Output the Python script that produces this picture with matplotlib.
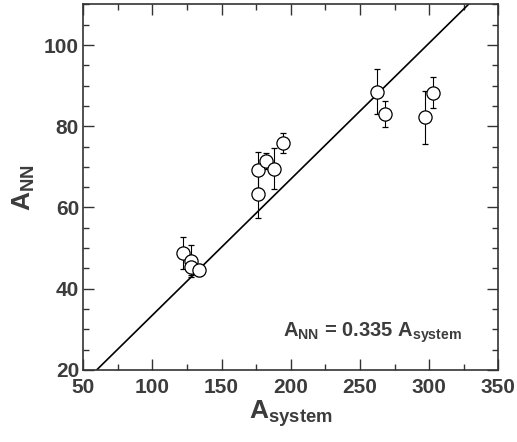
import matplotlib
matplotlib.use("Agg")
import matplotlib.pyplot as plt
import numpy as np
from matplotlib.ticker import MultipleLocator

# data
a_system = [122, 128, 128, 134, 176, 176, 182, 188, 194, 262, 268, 297, 303]
a_nn = [48.8, 46.8, 45.4, 44.6, 63.3, 69.3, 71.4, 69.6, 75.9, 88.5, 83.0, 82.2, 88.3]
a_nn_err = [4.0, 4.0, 2.0, 1.5, 5.8, 4.4, 2.0, 5.0, 2.5, 5.6, 3.2, 6.6, 3.9]
slope = 0.335

text_col = "#3c3c3c"
plt.rcParams["font.family"] = ["Liberation Sans", "DejaVu Sans"]
plt.rcParams["font.weight"] = "bold"
plt.rcParams["axes.labelweight"] = "bold"
plt.rcParams["mathtext.fontset"] = "custom"
plt.rcParams["mathtext.rm"] = "Liberation Sans:bold"
plt.rcParams["mathtext.bf"] = "Liberation Sans:bold"
plt.rcParams["mathtext.it"] = "Liberation Sans:bold"

fig = plt.figure(figsize=(5.17, 4.42), dpi=100)
ax = fig.add_axes([0.161, 0.163, 0.803, 0.827])

# fit line through origin
xl = np.array([50, 350])
ax.plot(xl, slope * xl, color="black", lw=1.2, zorder=2)

ax.errorbar(a_system, a_nn, yerr=a_nn_err, fmt="o", ms=9.5, mfc="white",
            mec="black", mew=0.9, ecolor="black", elinewidth=0.8,
            capsize=2, capthick=0.8, zorder=3)

ax.set_xlim(50, 350)
ax.set_ylim(20, 110)
ax.xaxis.set_major_locator(MultipleLocator(50))
ax.xaxis.set_minor_locator(MultipleLocator(25))
ax.yaxis.set_major_locator(MultipleLocator(20))
ax.yaxis.set_minor_locator(MultipleLocator(5))
ax.tick_params(which="both", direction="in", top=True, right=True,
               color="#333333", width=1.0, labelsize=15, labelcolor=text_col)
ax.tick_params(which="major", length=8)
ax.tick_params(which="minor", length=4.5)
ax.tick_params(axis="x", which="major", pad=6)
ax.tick_params(axis="y", which="major", pad=3)
for lab in ax.get_xticklabels() + ax.get_yticklabels():
    lab.set_fontweight("bold")
for s in ax.spines.values():
    s.set_linewidth(1.2)
    s.set_color("#333333")

ax.set_xlabel(r"$\mathbf{A_{system}}$", fontsize=19, color=text_col,
              fontweight="bold", labelpad=1)
ax.set_ylabel(r"$\mathbf{A_{NN}}$", fontsize=19, color=text_col,
              fontweight="bold", labelpad=5)

ax.text(324, 28.3, r"$\mathbf{A_{NN}}$ = 0.335 $\mathbf{A_{system}}$",
        fontsize=14.5, color=text_col, ha="right", va="baseline", fontweight="bold")

fig.savefig("out.png", dpi=100)
